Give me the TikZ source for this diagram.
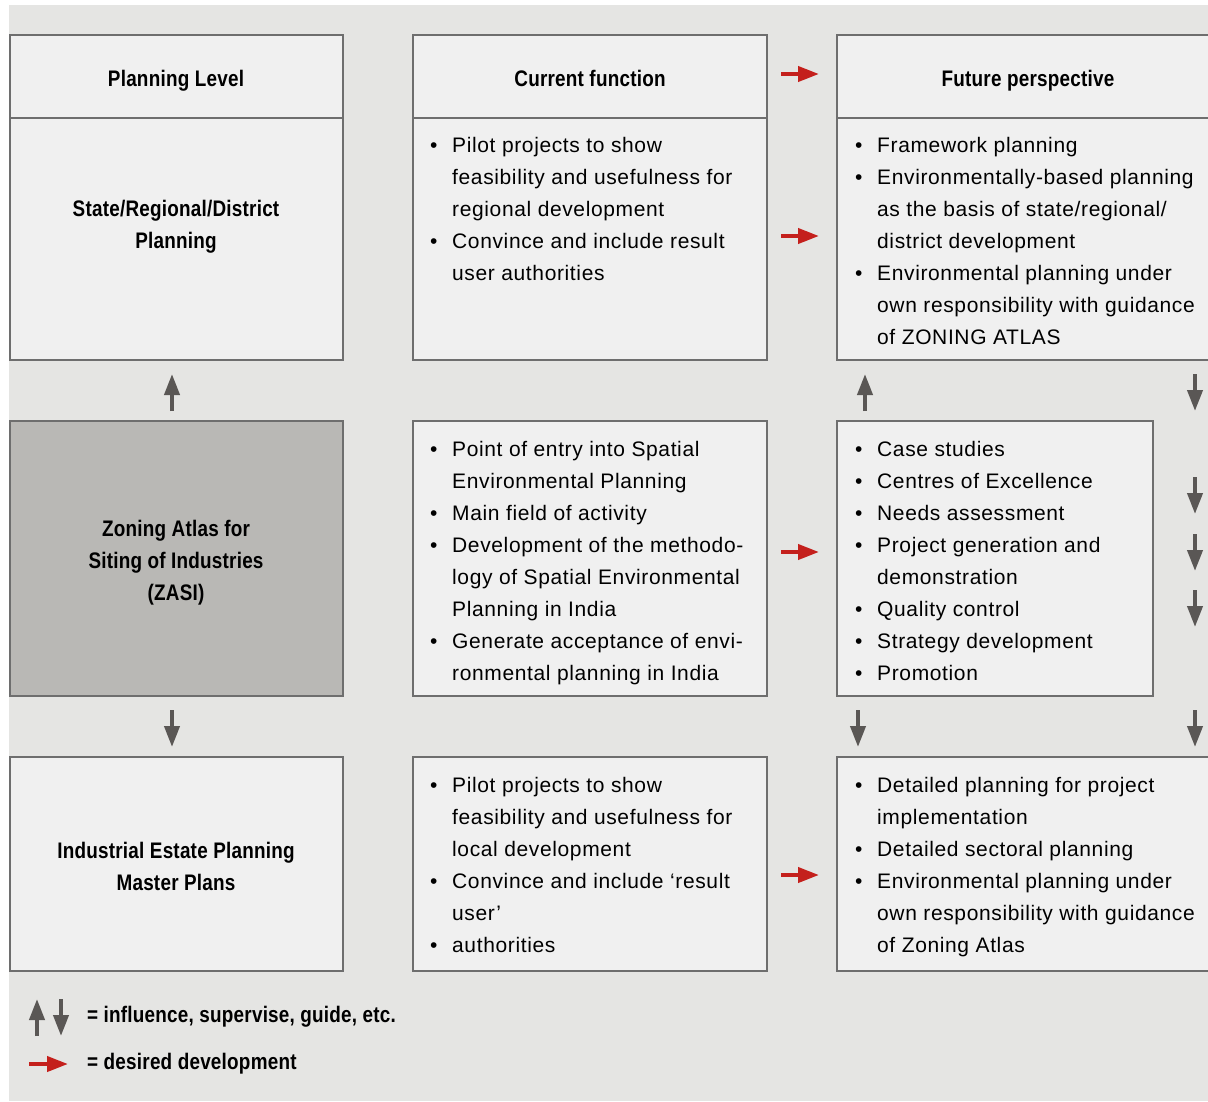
\documentclass[tikz,border=0pt]{standalone}
\usepackage{fontspec}
\setmainfont{Liberation Sans}[LetterSpace=3]
\newfontfamily\hdfont{Liberation Sans}[FakeStretch=0.84,LetterSpace=1]
\usetikzlibrary{arrows.meta}
\definecolor{bgc}{HTML}{E5E5E3}
\definecolor{boxc}{HTML}{F0F0F0}
\definecolor{linec}{HTML}{6E6E6E}
\definecolor{zasic}{HTML}{B9B8B5}
\definecolor{garr}{HTML}{5A5755}
\definecolor{rarr}{HTML}{C4201C}
\newcommand\blk[1]{\vtop{\baselineskip=32pt\lineskiplimit=-100pt\lineskip=0pt\halign{##\hfil\cr#1\crcr}}}
\newcommand\cblk[1]{\vtop{\baselineskip=32pt\lineskiplimit=-100pt\lineskip=0pt\halign{\hfil##\hfil\cr#1\crcr}}}
\newcommand\bu{\makebox[22pt][l]{\textbullet}}
\newcommand\ii{\hspace*{22pt}}
\tikzset{
  box/.style={draw=linec, fill=boxc, line width=2pt, rectangle, inner sep=0pt, outer sep=0pt, anchor=north west},
  body/.style={anchor=base west, inner sep=0pt, font=\fontsize{21}{32}\selectfont, text=black},
  head/.style={anchor=base, inner sep=0pt, font=\hdfont\bfseries\fontsize{22.5}{32}\selectfont, text=black},
  leg/.style={anchor=base west, inner sep=0pt, font=\hdfont\bfseries\fontsize{22.5}{32}\selectfont, text=black},
  garrow/.style={draw=garr, line width=4pt, -{Triangle[width=15pt,length=21pt]}},
  rarrow/.style={draw=rarr, line width=4pt, -{Triangle[width=15pt,length=21pt]}},
}
\begin{document}
\begin{tikzpicture}[x=1pt,y=-1pt]
\useasboundingbox (0,0) rectangle (1208,1101);
\clip (0,0) rectangle (1208,1101);
\fill[bgc] (9,5) rectangle (1208,1101);

% column 1
\node[box, minimum width=333pt, minimum height=83pt] (h1) at (10,35) {};
\node[box, minimum width=333pt, minimum height=242pt] (r11) at (10,118) {};
\node[box, fill=zasic, minimum width=333pt, minimum height=275pt] (r21) at (10,421) {};
\node[box, minimum width=333pt, minimum height=214pt] (r31) at (10,757) {};
% column 2
\node[box, minimum width=354pt, minimum height=83pt] (h2) at (413,35) {};
\node[box, minimum width=354pt, minimum height=242pt] (r12) at (413,118) {};
\node[box, minimum width=354pt, minimum height=275pt] (r22) at (413,421) {};
\node[box, minimum width=354pt, minimum height=214pt] (r32) at (413,757) {};
% column 3
\node[box, minimum width=400pt, minimum height=83pt] (h3) at (837,35) {};
\node[box, minimum width=400pt, minimum height=242pt] (r13) at (837,118) {};
\node[box, minimum width=316pt, minimum height=275pt] (r23) at (837,421) {};
\node[box, minimum width=400pt, minimum height=214pt] (r33) at (837,757) {};

% headings
\node[head] (t1) at (176,86) {Planning Level};
\node[head] (t2) at (590,86) {Current function};
\node[head] (t3) at (1028,86) {Future perspective};
\node[head] (t11) at (176,216) {\cblk{State/Regional/District\cr Planning}};
\node[head] (t21) at (176,536) {\cblk{Zoning Atlas for\cr Siting of Industries\cr (ZASI)}};
\node[head] (t31) at (176,858) {\cblk{Industrial Estate Planning\cr Master Plans}};

% bodies
\node[body] (b12) at (430,152) {\blk{\bu Pilot projects to show\cr
\ii feasibility and usefulness for\cr
\ii regional development\cr
\bu Convince and include result\cr
\ii user authorities}};
\node[body] (b13) at (855,152) {\blk{\bu Framework planning\cr
\bu Environmentally-based planning\cr
\ii as the basis of state/regional/\cr
\ii district development\cr
\bu Environmental planning under\cr
\ii own responsibility with guidance\cr
\ii of ZONING ATLAS}};
\node[body] (b22) at (430,456) {\blk{\bu Point of entry into Spatial\cr
\ii Environmental Planning\cr
\bu Main field of activity\cr
\bu Development of the methodo-\cr
\ii logy of Spatial Environmental\cr
\ii Planning in India\cr
\bu Generate acceptance of envi-\cr
\ii ronmental planning in India}};
\node[body] (b23) at (855,456) {\blk{\bu Case studies\cr
\bu Centres of Excellence\cr
\bu Needs assessment\cr
\bu Project generation and\cr
\ii demonstration\cr
\bu Quality control\cr
\bu Strategy development\cr
\bu Promotion}};
\node[body] (b32) at (430,792) {\blk{\bu Pilot projects to show\cr
\ii feasibility and usefulness for\cr
\ii local development\cr
\bu Convince and include ‘result\cr
\ii user’\cr
\bu authorities}};
\node[body] (b33) at (855,792) {\blk{\bu Detailed planning for project\cr
\ii implementation\cr
\bu Detailed sectoral planning\cr
\bu Environmental planning under\cr
\ii own responsibility with guidance\cr
\ii of Zoning Atlas}};

% red arrows
\coordinate (ra1s) at (781,74);  \coordinate (ra1e) at (819,74);
\coordinate (ra2s) at (781,236); \coordinate (ra2e) at (819,236);
\coordinate (ra3s) at (781,552); \coordinate (ra3e) at (819,552);
\coordinate (ra4s) at (781,875); \coordinate (ra4e) at (819,875);
\draw[rarrow] (ra1s) -- (ra1e);
\draw[rarrow] (ra2s) -- (ra2e);
\draw[rarrow] (ra3s) -- (ra3e);
\draw[rarrow] (ra4s) -- (ra4e);

% grey arrows
\coordinate (g1s) at (172,411); \coordinate (g1e) at (172,374);
\coordinate (g2s) at (172,710); \coordinate (g2e) at (172,747);
\coordinate (g3s) at (865,411); \coordinate (g3e) at (865,374);
\coordinate (g4s) at (858,710); \coordinate (g4e) at (858,747);
\coordinate (g5s) at (1195,374); \coordinate (g5e) at (1195,411);
\coordinate (g6s) at (1195,477); \coordinate (g6e) at (1195,514);
\coordinate (g7s) at (1195,534); \coordinate (g7e) at (1195,571);
\coordinate (g8s) at (1195,590); \coordinate (g8e) at (1195,627);
\coordinate (g9s) at (1195,710); \coordinate (g9e) at (1195,747);
\foreach \k in {1,...,9} {\draw[garrow] (g\k s) -- (g\k e);}

% legend
\coordinate (l1s) at (37,1036); \coordinate (l1e) at (37,999);
\coordinate (l2s) at (61,999); \coordinate (l2e) at (61,1036);
\draw[garrow] (l1s) -- (l1e);
\draw[garrow] (l2s) -- (l2e);
\coordinate (l3s) at (29,1064); \coordinate (l3e) at (68,1064);
\draw[rarrow] (l3s) -- (l3e);
\node[leg] (lt1) at (87,1022) {= influence, supervise, guide, etc.};
\node[leg] (lt2) at (87,1069) {= desired development};
\end{tikzpicture}
\end{document}
